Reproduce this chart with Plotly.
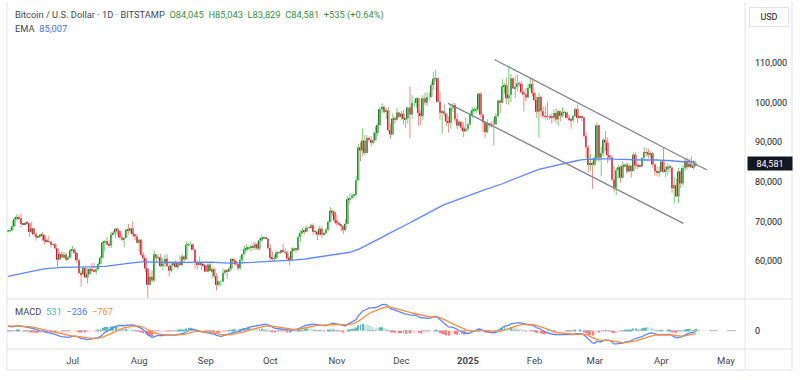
import plotly.graph_objects as go
import pandas as pd

# ---------------- data (daily candles, BITSTAMP BTC/USD) ----------------
start_date = "2024-06-01"
first_open = 67530

close = [
    # Jun 2024
    67760,67770,68800,70560,71100,70790,69350,69300,69650,69500,67320,68250,66750,66000,66200,
    66650,66500,65150,64950,64850,64100,64250,63200,60300,61800,60850,61600,60300,60900,62700,
    # Jul
    62850,62050,60200,57000,56650,58250,55850,56700,58000,57700,57350,57900,59200,60800,64700,65000,
    64100,63950,66700,67150,68150,67550,65950,65350,65800,67900,67800,68250,66800,66200,64600,
    # Aug
    65350,61500,60700,58100,54000,56050,55100,61700,60850,60900,58700,59350,60600,58700,57550,58900,
    59450,58450,59500,59000,61150,60400,64100,64200,64200,62850,59500,59000,59400,59100,58950,
    # Sep
    57300,59100,57450,57950,56150,53950,54850,54850,57050,57650,57350,58100,60550,60000,59150,
    58200,60300,61750,62950,63200,63350,63600,63350,64250,63150,65200,65800,65900,65650,63300,
    # Oct
    60800,60650,60750,62100,62050,62800,62250,62150,60600,60300,62500,63200,62850,66050,67050,67600,
    67400,68400,68350,69000,67350,67400,66650,68150,66650,67050,67950,69900,72700,72350,70250,
    # Nov
    69500,69300,68750,67800,69400,75600,75900,76550,76700,80400,88700,87950,90400,87250,91050,
    90600,89850,90450,92350,94350,98350,98950,97700,98000,93050,91950,95950,95650,97500,96400,
    # Dec
    97200,95850,96000,98750,97000,99900,99900,101150,97400,96600,101100,100000,101400,101400,104450,106050,
    106100,100200,97450,97750,97200,95200,94900,98700,99400,95800,94200,95150,93700,92750,93400,
    # Jan 2025
    94450,96900,98100,98250,98350,102250,96950,95050,92550,94700,94550,94500,94500,96550,100500,99950,
    104100,104450,101100,102000,106150,103650,103950,104800,104700,102600,102050,101300,103700,104700,102400,
    # Feb
    100650,97700,101400,97850,96600,96550,96450,96450,96150,97400,95750,97850,96650,97500,
    97550,96150,95750,95550,96650,98350,96150,96550,96250,91550,88700,84250,84700,84350,
    # Mar
    86000,94250,86100,87250,90600,89900,86700,86150,80600,78500,82900,83700,81050,83950,84350,82600,
    84050,82700,86850,84200,84050,83850,86100,87500,87450,86900,87200,84350,82650,82400,82550,
    # Apr
    85150,82500,83150,83850,83500,78350,79150,76300,82600,79600,83450,85300,83700,84550,83650,84045,84581,
]

high = [
    67850,68400,70200,71100,71750,71650,71950,69550,69850,70150,69550,69980,68400,67300,66450,
    66950,67250,66550,65700,66450,65050,64500,64550,63350,62350,62450,62300,62200,61250,63000,
    63800,63250,62250,60500,57500,58500,58250,58200,58300,59450,59500,58550,59800,61300,64900,65350,
    66100,65100,67400,67600,68350,68450,67800,67100,66150,68200,69350,68300,70000,66950,66800,
    65600,65600,62200,61100,58300,57100,57700,62700,61750,61450,61800,60700,61550,61750,59800,59800,
    59650,60250,59600,61400,61800,61400,64950,64500,65000,64500,63200,60200,61150,59900,59400,
    59050,59400,59800,58500,58300,56950,55000,55300,58100,58050,57950,58600,60650,60600,60400,
    59200,61300,61800,63850,64100,63550,64000,64700,64800,64800,65800,66500,66250,66050,65700,
    64150,62350,61450,62450,62350,62950,64450,63200,62500,61300,63400,63450,63300,66500,67900,68400,
    67900,68950,68650,69400,69500,67850,67450,68800,68750,67350,68300,70250,73600,72950,72650,
    71600,70000,69400,69050,70550,76450,76950,77250,76900,81450,89650,89950,93450,91800,91850,
    91500,91500,92650,94000,94900,98950,99800,99000,98650,98800,94700,97200,96600,98700,97700,
    97900,98150,96300,99000,104000,101900,100550,101400,101200,98200,101900,102500,102550,102650,105100,107800,
    108300,106450,102800,98150,99550,97400,96450,99500,99950,99950,97350,95500,95200,94900,96150,
    94900,97800,98950,98750,98800,102500,102700,97250,95350,95850,94950,95350,95900,97350,100700,100800,
    105900,104950,106350,109350,107200,106350,106850,107100,105300,105450,103200,103750,104800,106450,106050,
    102750,101450,102500,101750,99000,99150,100150,96900,97300,98300,98500,98100,98000,98800,
    97950,97750,97000,96000,96900,98700,99500,96850,96500,96500,92500,89300,87050,85100,
    86550,95000,94400,88900,91000,92800,91200,86850,86450,83950,83550,84300,84300,85200,84650,85000,
    84700,84000,87450,87400,84800,84500,86200,88750,88500,88250,87800,87500,84600,83900,83900,
    85500,88500,83900,84700,84200,83800,81250,80850,83550,82700,84250,85850,86100,85800,86450,85450,85043,
]

low = [
    67250,67300,67650,68600,70400,70150,68550,69200,69150,69250,66100,66900,66300,65100,65850,
    66050,65100,64100,64700,64550,63400,63950,63150,58500,60250,60600,60650,60050,60250,60750,
    62500,61850,59450,56800,53500,56050,55800,54300,56300,57200,57100,56600,57800,59300,60650,62400,
    63950,63300,63300,66600,65800,66600,65450,65100,63450,65750,66700,67050,66450,65300,64550,
    62300,61250,59850,57200,49050,53800,54600,54700,59600,60300,58400,57650,58450,58400,56150,57100,
    58800,58400,57850,58600,58850,59800,60400,63600,63800,62800,58100,57850,58800,57750,58750,
    57200,57150,57400,55600,55700,52550,53750,53650,54600,56400,55550,57350,57650,59450,58750,
    57500,57650,59250,61600,62450,62800,62400,62700,62800,62700,62700,64800,65450,65450,62900,
    60200,59950,59850,60450,61650,61800,62150,61850,60350,58900,60100,62500,62100,62450,64850,66800,
    66700,67200,68150,68100,66600,66800,65300,66450,65750,66650,66850,67550,69700,71450,69700,
    68800,69050,67450,66850,67450,69350,74450,75600,75900,76500,80250,85200,86350,86700,87200,
    90050,88850,89400,90900,91550,94100,97250,97200,95800,92650,90800,91800,94700,95400,96100,
    95700,94450,93550,94700,91000,95950,99000,98750,94100,94250,95600,99300,99200,100600,101200,103300,
    105300,100000,95700,92200,96400,94200,92400,93400,97600,95150,93300,94100,93050,91300,92900,
    92800,94250,96050,97550,97300,97950,96150,92500,91200,92200,93850,93700,89250,94350,96500,97300,
    99950,102300,99600,99450,100100,103350,101250,102750,104150,102500,97750,100250,101350,103300,101600,
    100300,96150,91200,96200,96150,95700,95650,95700,94700,95300,94850,94100,95250,96300,
    97250,96050,95250,93400,95100,96400,94850,95800,95250,91200,86100,82300,82800,78250,
    83850,85100,85100,81400,86400,87800,84700,85200,80200,77450,76600,80800,79900,80800,83600,82000,
    82450,81150,82650,83200,83150,83650,83800,85500,86300,85900,85850,83600,81600,81400,81300,
    82450,82300,81200,81650,82350,77200,74500,76200,74600,78450,78950,82750,83050,83650,83600,83150,83829,
]

# indicator starting states (values before the first candle)
ema200_seed = 56000
ema12_seed = 68100
ema26_seed = 66800
signal_seed = 1350

# drawn channel lines
upper_line_dates = ["2025-01-13 07:00", "2025-04-22 05:00"]
upper_line_prices = [110884, 82980]
lower_line_dates = ["2024-12-22 19:00", "2025-04-11 05:00"]
lower_line_prices = [99823, 69520]

price_ticks = [60000, 70000, 80000, 90000, 100000, 110000]
price_tick_labels = ["60,000", "70,000", "80,000", "90,000", "100,000", "110,000"]
month_ticks = ["2024-07-01", "2024-08-01", "2024-09-01", "2024-10-01", "2024-11-01", "2024-12-01",
               "2025-01-01", "2025-02-01", "2025-03-01", "2025-04-01", "2025-05-01"]
month_labels = ["Jul", "Aug", "Sep", "Oct", "Nov", "Dec", "<b>2025</b>", "Feb", "Mar", "Apr", "May"]

last_price = 84581

# ---------------- derived ----------------
dates = list(pd.date_range(start_date, periods=len(close), freq="D"))
opens = [first_open] + close[:-1]
high = [max(h, o, c) for h, o, c in zip(high, opens, close)]
low = [min(l, o, c) for l, o, c in zip(low, opens, close)]

ema = []
e = ema200_seed
for c in close:
    e = e + (c - e) * 2 / 201
    ema.append(e)

macd, sig, hist = [], [], []
e12, e26, s = ema12_seed, ema26_seed, signal_seed
for c in close:
    e12 = e12 + (c - e12) * 2 / 13
    e26 = e26 + (c - e26) * 2 / 27
    m = e12 - e26
    s = s + (m - s) * 2 / 10
    macd.append(m)
    sig.append(s)
    hist.append(m - s)

hist_colors = []
prev = hist[0]
for h in hist:
    if h >= 0:
        hist_colors.append("#26a69a" if h > prev else "#b2dfdb")
    else:
        hist_colors.append("#ffcdd2" if h > prev else "#ff5252")
    prev = h

UP_BODY, UP_WICK = "#2e7d32", "#6fd377"
DN_BODY, DN_WICK = "#c2202b", "#f28b8b"

wx_up, wy_up, wx_dn, wy_dn = [], [], [], []
bx_up, bb_up, bh_up, bx_dn, bb_dn, bh_dn = [], [], [], [], [], []
for d, o, h, l, c in zip(dates, opens, high, low, close):
    if c >= o:
        wx_up += [d, d, None]; wy_up += [l, h, None]
        bx_up.append(d); bb_up.append(o); bh_up.append(c - o)
    else:
        wx_dn += [d, d, None]; wy_dn += [l, h, None]
        bx_dn.append(d); bb_dn.append(c); bh_dn.append(o - c)

DAY_MS = 86400000
fig = go.Figure()
fig.add_trace(go.Scatter(x=wx_up, y=wy_up, mode="lines", line=dict(color=UP_WICK, width=1),
                         hoverinfo="skip", xaxis="x", yaxis="y"))
fig.add_trace(go.Scatter(x=wx_dn, y=wy_dn, mode="lines", line=dict(color=DN_WICK, width=1),
                         hoverinfo="skip", xaxis="x", yaxis="y"))
fig.add_trace(go.Bar(x=bx_up, y=bh_up, base=bb_up, width=0.85 * DAY_MS, marker=dict(color=UP_BODY, line=dict(width=0)),
                     xaxis="x", yaxis="y"))
fig.add_trace(go.Bar(x=bx_dn, y=bh_dn, base=bb_dn, width=0.85 * DAY_MS, marker=dict(color=DN_BODY, line=dict(width=0)),
                     xaxis="x", yaxis="y"))
fig.add_trace(go.Scatter(x=dates, y=ema, mode="lines", line=dict(color="#5b87f7", width=1.3),
                         xaxis="x", yaxis="y"))
fig.add_trace(go.Scatter(x=upper_line_dates, y=upper_line_prices, mode="lines",
                         line=dict(color="#80838c", width=1.3), xaxis="x", yaxis="y"))
fig.add_trace(go.Scatter(x=lower_line_dates, y=lower_line_prices, mode="lines",
                         line=dict(color="#80838c", width=1.3), xaxis="x", yaxis="y"))

# MACD panel
fig.add_trace(go.Bar(x=dates, y=hist, width=0.45 * DAY_MS, opacity=0.75,
                     marker=dict(color=hist_colors, line=dict(width=0)),
                     xaxis="x2", yaxis="y2"))
fig.add_trace(go.Scatter(x=dates, y=macd, mode="lines", line=dict(color="#5b87f7", width=1.3),
                         xaxis="x2", yaxis="y2"))
fig.add_trace(go.Scatter(x=dates, y=sig, mode="lines", line=dict(color="#ff8a3d", width=1.3),
                         xaxis="x2", yaxis="y2"))

mx = max(macd)
y2_range = [-(349 - 330.7) / (330.7 - 304.5) * mx, (330.7 - 299.5) / (330.7 - 304.5) * mx]

FONT = "Roboto"
TXT = "#131722"
x_range = ["2024-05-31 12:00", "2025-05-09 22:00"]

def px(x):
    return (x - 7) / 738

def py(y):
    return (349 - y) / 345

BORDER = "#e0e3eb"
shapes = [
    dict(type="line", xref="paper", yref="paper", x0=0, x1=0, y0=py(370), y1=py(2), line=dict(color=BORDER, width=1)),
    dict(type="line", xref="paper", yref="paper", x0=1, x1=1, y0=py(370), y1=py(2), line=dict(color=BORDER, width=1)),
    dict(type="line", xref="paper", yref="paper", x0=px(792), x1=px(792), y0=py(370), y1=py(2), line=dict(color=BORDER, width=1)),
    dict(type="line", xref="paper", yref="paper", x0=0, x1=px(792), y0=py(299), y1=py(299), line=dict(color=BORDER, width=1)),
    dict(type="line", xref="paper", yref="paper", x0=0, x1=px(792), y0=py(349), y1=py(349), line=dict(color=BORDER, width=1)),
    dict(type="line", xref="paper", yref="paper", x0=0, x1=px(792), y0=py(370), y1=py(370), line=dict(color=BORDER, width=1)),
    dict(type="line", xref="paper", yref="y2", x0=0, x1=1, y0=0, y1=0, line=dict(color="#b2b5be", width=1, dash="dash")),
]

annotations = [
    dict(xref="paper", yref="paper", x=px(13), y=py(15.5), xanchor="left", yanchor="middle", showarrow=False,
         text="<span style='color:#434651'>Bitcoin / U.S. Dollar · 1D · BITSTAMP</span>"
              "<span style='color:#3a8f3e'>  O84,045  H85,043  L83,829  C84,581  +535 (+0.64%)</span>",
         font=dict(family=FONT, size=9.3, color=TXT)),
    dict(xref="paper", yref="paper", x=px(13), y=py(29), xanchor="left", yanchor="middle", showarrow=False,
         text="<span style='color:#434651'>EMA</span>  <span style='color:#3d6ff5'>85,007</span>",
         font=dict(family=FONT, size=9.3, color=TXT)),
    dict(xref="paper", yref="paper", x=px(13), y=py(311), xanchor="left", yanchor="middle", showarrow=False,
         text="<span style='color:#434651'>MACD</span>  <span style='color:#4db6ac'>531</span>  "
              "<span style='color:#4a78f5'>−236</span>  <span style='color:#ff8a3d'>−767</span>",
         font=dict(family=FONT, size=9.3, color=TXT)),
    dict(xref="paper", yref="paper", x=px(769), y=py(17), xanchor="center", yanchor="middle", showarrow=False,
         text="USD", width=36, height=16, bordercolor=BORDER, borderwidth=1,
         font=dict(family=FONT, size=9, color=TXT)),
    dict(xref="paper", yref="y", x=1, y=last_price, xanchor="left", yanchor="middle", showarrow=False, xshift=2,
         text=f"{last_price:,}", width=42, height=11, bgcolor="#131722", align="center",
         font=dict(family=FONT, size=9, color="#ffffff")),
]

fig.update_layout(
    width=800, height=380,
    margin=dict(l=7, r=55, t=4, b=31),
    paper_bgcolor="white", plot_bgcolor="white",
    showlegend=False, barmode="overlay",
    font=dict(family=FONT, size=9, color=TXT),
    xaxis=dict(domain=[0, 1], anchor="y", range=x_range, type="date", showticklabels=False,
               showgrid=False, zeroline=False, showline=False, ticks=""),
    xaxis2=dict(domain=[0, 1], anchor="y2", range=x_range, type="date", matches="x",
                tickvals=month_ticks, ticktext=month_labels, tickfont=dict(family=FONT, size=9.5, color="#434651"),
                showgrid=False, zeroline=False, showline=False, ticks="outside", ticklen=0, ticklabelstandoff=3),
    yaxis=dict(domain=[py(298), 1], anchor="x", side="right", range=[50657, 124899],
               tickvals=price_ticks, ticktext=price_tick_labels, tickfont=dict(family=FONT, size=9, color=TXT),
               showgrid=False, zeroline=False, showline=False, ticks="", ticklabelstandoff=9),
    yaxis2=dict(domain=[0, py(299.5)], anchor="x2", side="right", range=y2_range,
                tickvals=[0], ticktext=["0"], tickfont=dict(family=FONT, size=9, color=TXT),
                showgrid=False, zeroline=False, showline=False, ticks="", ticklabelstandoff=9),
    shapes=shapes, annotations=annotations,
)

fig.write_html("out.html", config={"displayModeBar": False},
               post_script="document.body.style.margin='0';document.body.style.overflow='hidden';")
